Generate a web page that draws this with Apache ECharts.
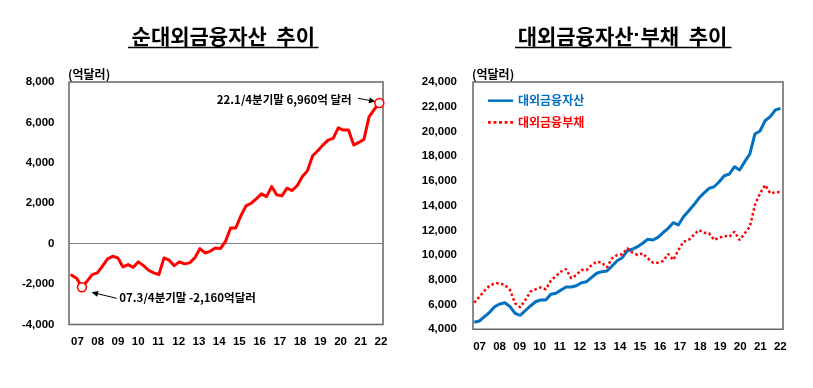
<!DOCTYPE html>
<html><head><meta charset="utf-8">
<script src="https://cdn.jsdelivr.net/npm/echarts@6/dist/echarts.min.js"></script>
<style>html,body{margin:0;padding:0;background:#fff}#c{width:813px;height:388px}</style>
</head><body><div id="c"></div>
<script>
// ---- data ----
const yearLabels = ['07','08','09','10','11','12','13','14','15','16','17','18','19','20','21','22'];
// quarterly, 2007 Q1 .. 2022 Q1 (억달러)
const netAssets = [
  -1560,-1725,-2160,-1855,-1530,-1445,-1115,-755,-625,-705,
  -1150,-1035,-1170,-900,-1085,-1315,-1445,-1530,-705,-820,
  -1085,-900,-1000,-950,-705,-245,-460,-380,-215,-245,
  115,775,775,1380,1870,2000,2215,2465,2330,2825,
  2415,2365,2745,2630,2880,3320,3615,4350,4600,4880,
  5125,5210,5730,5620,5620,4880,5010,5160,6275,6640,
  6960
];
const extAssets = [
  4570,4670,5020,5375,5830,6045,6150,5830,5295,5130,
  5505,5885,6230,6370,6370,6830,6910,7180,7420,7420,
  7525,7770,7850,8205,8530,8660,8715,9120,9550,9790,
  10355,10470,10680,10955,11280,11220,11440,11810,12170,12620,
  12435,13105,13565,14050,14595,15020,15400,15530,15935,16420,
  16560,17150,16880,17555,18180,19795,20035,20870,21195,21735,
  21870
];
const extLiab = [
  6150,6635,7120,7525,7720,7720,7580,7180,6100,5780,
  6370,7040,7235,7395,7235,7930,8310,8660,8875,8125,
  8390,8795,8795,9200,9470,9390,9015,9740,10010,10065,
  10550,10195,10010,10145,9740,9390,9390,9525,10090,9605,
  10415,11085,11220,11625,12030,11810,11760,11220,11410,11545,
  11490,11895,11220,11760,12300,14050,15000,15670,15000,15080,
  15100
];
const seriesNames = ['순대외금융자산','대외금융자산','대외금융부채'];
const leftTitle = '순대외금융자산  추이';
const rightTitleParts = ['대외금융자산', '·', '부채  추이'];
const unitLabel = '(억달러)';
const annoHigh = '22.1/4분기말 6,960억 달러';
const annoLow = '07.3/4분기말 -2,160억달러';
const highlightIdx = [2, 60];

// ---- chart ----
const KR = '"Noto Sans CJK KR", sans-serif';
const NUM = '"Liberation Sans", Arial, sans-serif';
const RED = '#FF0000', BLUE = '#0070C0';
const pairs = a => a.map((v, i) => [i, v]);
const fmt = v => Number(v).toLocaleString('en-US');

// fit title font size to the underline span
const mctx = document.createElement('canvas').getContext('2d');
function measure(parts) {
  let w = 0;
  parts.forEach(([t, fam]) => { mctx.font = 'bold 100px ' + fam; w += mctx.measureText(t).width; });
  return w / 100;
}
const leftTitleSize = Math.min(21, 190 / measure([[leftTitle, KR]]));
const rightTitleSize = Math.min(21, 215 / measure([[rightTitleParts[0], KR], [rightTitleParts[1], NUM], [rightTitleParts[2], KR]]));

function arrow(x1, y1, x2, y2) {
  const dx = x2 - x1, dy = y2 - y1, L = Math.hypot(dx, dy);
  const ux = dx / L, uy = dy / L, nx = -uy, ny = ux;
  const len = 6.5, hw = 3;
  const bx = x2 - ux * len, by = y2 - uy * len;
  return [
    { type: 'line', shape: { x1, y1, x2: bx, y2: by }, style: { stroke: '#000', lineWidth: 1 } },
    { type: 'polygon', shape: { points: [[x2, y2], [bx + nx * hw, by + ny * hw], [bx - nx * hw, by - ny * hw]] }, style: { fill: '#000' } }
  ];
}

const numLabel = { fontFamily: NUM, fontWeight: 'bold', fontSize: 11.5, color: '#000' };
const solidIcon = 'path://M0,0H10V1H0Z';
const dotIcon = 'path://M0,0H1V1H0Z M2,0H3V1H2Z M4,0H5V1H4Z M6,0H7V1H6Z M8,0H9V1H8Z';

const option = {
  animation: false,
  backgroundColor: '#fff',
  grid: [
    { left: 69, top: 82, width: 314, height: 242.5, show: true, borderColor: '#666', borderWidth: 1.5 },
    { left: 473, top: 82, width: 310, height: 247.3, show: true, borderColor: '#666', borderWidth: 1.5 },
    { left: 67.4, top: 82, width: 323.7, height: 242.5, show: false },
    { left: 469.5, top: 82, width: 320.9, height: 247.3, show: false }
  ],
  xAxis: [
    { type: 'value', gridIndex: 0, min: -0.53, max: 60.72,
      axisLine: { show: true, onZero: true, lineStyle: { color: '#808080', width: 1 } },
      axisTick: { show: false }, axisLabel: { show: false }, splitLine: { show: false } },
    { type: 'value', gridIndex: 1, min: -0.25, max: 60.5,
      axisLine: { show: false }, axisTick: { show: false }, axisLabel: { show: false }, splitLine: { show: false } },
    { type: 'category', gridIndex: 2, data: yearLabels, boundaryGap: true,
      axisLine: { show: false }, axisTick: { show: false },
      axisLabel: Object.assign({ margin: 11, interval: 0 }, numLabel) },
    { type: 'category', gridIndex: 3, data: yearLabels, boundaryGap: true,
      axisLine: { show: false }, axisTick: { show: false },
      axisLabel: Object.assign({ margin: 11.5, interval: 0 }, numLabel) }
  ],
  yAxis: [
    { type: 'value', gridIndex: 0, min: -4000, max: 8000, interval: 2000,
      axisLine: { show: false }, axisTick: { show: false }, splitLine: { show: false },
      axisLabel: Object.assign({ margin: 14.5, formatter: fmt }, numLabel) },
    { type: 'value', gridIndex: 1, min: 4000, max: 24000, interval: 2000,
      axisLine: { show: false }, axisTick: { show: false }, splitLine: { show: false },
      axisLabel: Object.assign({ margin: 16, formatter: fmt }, numLabel) },
    { type: 'value', gridIndex: 2, show: false },
    { type: 'value', gridIndex: 3, show: false }
  ],
  legend: {
    orient: 'vertical', left: 488, top: 94.7, padding: 0, itemWidth: 25, itemHeight: 3, itemGap: 9.6,
    textStyle: { fontFamily: KR, fontWeight: 'bold', fontSize: 12 },
    data: [
      { name: seriesNames[1], icon: solidIcon, itemStyle: { color: BLUE }, textStyle: { color: BLUE } },
      { name: seriesNames[2], icon: dotIcon, itemStyle: { color: RED }, textStyle: { color: RED } }
    ]
  },
  series: [
    { name: seriesNames[0], type: 'line', xAxisIndex: 0, yAxisIndex: 0, data: pairs(netAssets),
      symbol: 'none', lineStyle: { color: RED, width: 3, join: 'round', cap: 'round' }, itemStyle: { color: RED } },
    { name: 'hl', type: 'scatter', xAxisIndex: 0, yAxisIndex: 0, z: 5,
      data: highlightIdx.map(i => [i, netAssets[i]]),
      symbol: 'circle', symbolSize: 9,
      itemStyle: { color: '#fff', borderColor: RED, borderWidth: 1.5, opacity: 1 } },
    { name: seriesNames[1], type: 'line', xAxisIndex: 1, yAxisIndex: 1, data: pairs(extAssets),
      symbol: 'none', lineStyle: { color: BLUE, width: 3, join: 'round' }, itemStyle: { color: BLUE } },
    { name: seriesNames[2], type: 'line', xAxisIndex: 1, yAxisIndex: 1, data: pairs(extLiab),
      symbol: 'none', lineStyle: { color: RED, width: 2.5, type: [2.5, 2.5] }, itemStyle: { color: RED } }
  ],
  graphic: [
    { type: 'text', x: 223.3, y: 35.7, style: { text: leftTitle, font: 'bold ' + leftTitleSize.toFixed(2) + 'px ' + KR, fill: '#000', align: 'center', verticalAlign: 'middle' } },
    { type: 'line', shape: { x1: 128, y1: 47.5, x2: 318.5, y2: 47.5 }, style: { stroke: '#000', lineWidth: 1.5 } },
    { type: 'text', x: 622.5, y: 35.7, style: {
        text: rightTitleParts[0] + '{d|' + rightTitleParts[1] + '}' + rightTitleParts[2],
        font: 'bold ' + rightTitleSize.toFixed(2) + 'px ' + KR, fill: '#000', align: 'center', verticalAlign: 'middle',
        rich: { d: { fontFamily: NUM, fontWeight: 'bold', fontSize: rightTitleSize, fill: '#000' } } } },
    { type: 'line', shape: { x1: 515, y1: 47.5, x2: 731.5, y2: 47.5 }, style: { stroke: '#000', lineWidth: 1.5 } },
    { type: 'text', x: 68, y: 74, style: { text: unitLabel, font: 'bold 12px ' + KR, fill: '#000', align: 'left', verticalAlign: 'middle' } },
    { type: 'text', x: 472, y: 74, style: { text: unitLabel, font: 'bold 12px ' + KR, fill: '#000', align: 'left', verticalAlign: 'middle' } },
    { type: 'text', x: 351.7, y: 99.3, style: { text: annoHigh, font: 'bold 11.5px ' + KR, fill: '#000', align: 'right', verticalAlign: 'middle' } },
    { type: 'text', x: 119.3, y: 297.7, style: { text: annoLow, font: 'bold 11.5px ' + KR, fill: '#000', align: 'left', verticalAlign: 'middle' } },
    ...arrow(358, 98.3, 375.5, 101.5),
    ...arrow(116.7, 298.3, 91.5, 292.3)
  ]
};
const chart = echarts.init(document.getElementById('c'), null, { renderer: 'canvas' });
chart.setOption(option);
</script>
</body></html>
